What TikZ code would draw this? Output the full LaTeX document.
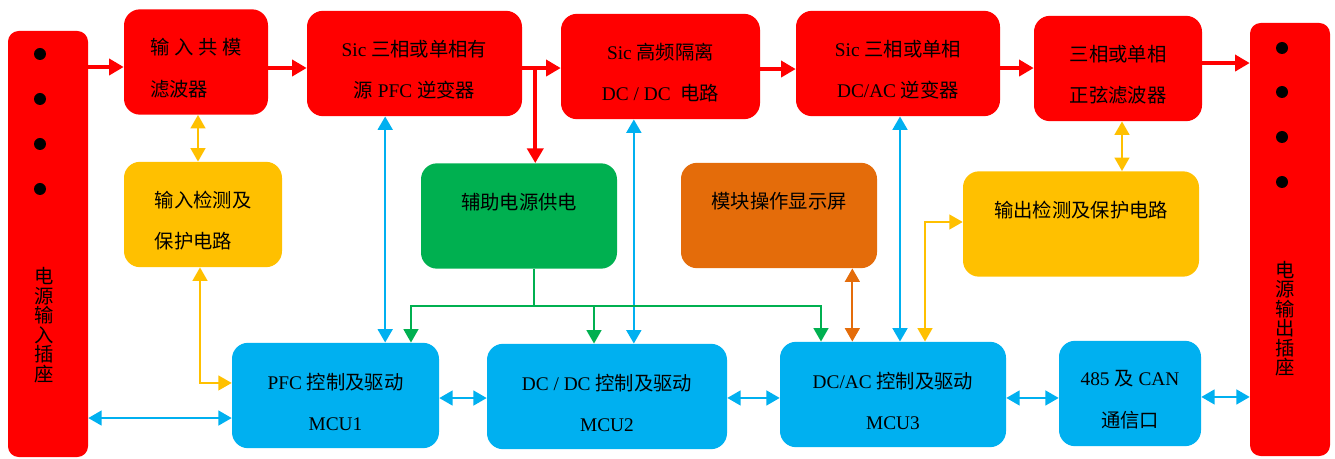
\documentclass[tikz,border=0pt]{standalone}
\usepackage{fontspec}
\setmainfont{Liberation Serif}
\newfontfamily\cjk{Noto Sans CJK SC}
\newcommand\zh[1]{{\cjk #1}}
\usetikzlibrary{arrows.meta,calc}
\definecolor{pwrred}{HTML}{FF0000}
\definecolor{ctlblue}{HTML}{00B0F0}
\definecolor{chkyel}{HTML}{FFC000}
\definecolor{auxgrn}{HTML}{00B050}
\definecolor{dspor}{HTML}{E46C0A}
\tikzset{
  pwr/.style={x=0.75pt, y=-0.75pt},
  p blk/.style={rounded corners=12pt, inner sep=0pt, minimum height=79pt},
  p red/.style={p blk, fill=pwrred},
  p sock/.style={rounded corners=8pt, inner sep=0pt, minimum width=60pt, fill=pwrred},
  p ctl/.style={p blk, fill=ctlblue},
  p chk/.style={p blk, fill=chkyel},
  p aux/.style={p blk, fill=auxgrn},
  p dsp/.style={p blk, fill=dspor},
  p two/.style={align=center, yshift=-4.7pt, font=\fontsize{14.5}{31}\selectfont},
  p one/.style={align=center, yshift=10.5pt, font=\fontsize{14.5}{31}\selectfont},
  p vert/.style={align=center, font=\fontsize{14.5}{14.6}\selectfont},
  p tip/.style={Triangle[length=11pt, width=11pt]},
  a pwr/.style={draw=pwrred, line width=3pt, -{Triangle[length=11pt, width=12pt]}},
  a bus/.style={draw=ctlblue, line width=1.8pt, {Triangle[length=10pt, width=11pt]}-{Triangle[length=10pt, width=11pt]}},
  a chk/.style={draw=chkyel, line width=1.5pt, {Triangle[length=10pt, width=11pt]}-{Triangle[length=10pt, width=11pt]}},
  a dsp/.style={draw=dspor, line width=1.5pt, {Triangle[length=10pt, width=11pt]}-{Triangle[length=10pt, width=11pt]}},
  a aux/.style={draw=auxgrn, line width=1.5pt, -{Triangle[length=10pt, width=11pt]}},
  a auxl/.style={draw=auxgrn, line width=1.5pt},
}
\begin{document}
\begin{tikzpicture}[pwr]
\useasboundingbox (0,0) rectangle (1335,459);
% ---- sockets ----
\node[p sock, minimum height=319.5pt, label={[p vert, xshift=-3pt, yshift=-60.8pt]center:{\zh{电}\\\zh{源}\\\zh{输}\\\zh{入}\\\zh{插}\\\zh{座}}}] (sockin) at (48,244) {};
\node[p sock, minimum height=324.75pt, label={[p vert, xshift=-3.75pt, yshift=-59.3pt]center:{\zh{电}\\\zh{源}\\\zh{输}\\\zh{出}\\\zh{插}\\\zh{座}}}] (sockout) at (1290,239.5) {};
\foreach \dy in {54,99,144,189} \fill (40,\dy) circle[radius=4.5pt];
\foreach \dy in {48,92,137,182} \fill (1282,\dy) circle[radius=4.5pt];
% ---- power stages ----
\node[p red, minimum width=108pt, label={[p two, align=left]center:{\zh{输} \zh{入} \zh{共} \zh{模}\\\zh{滤波器}}}] (fltin) at (196,62) {};
\node[p red, minimum width=161.25pt, label={[p two]center:{Sic \zh{三相或单相有}\\\zh{源} PFC \zh{逆变器}}}] (pfc) at (414.5,63.5) {};
\node[p red, minimum width=149.25pt, label={[p two]center:{Sic \zh{高频隔离}\\DC / DC\ \ \zh{电路}}}] (dcdc) at (660.5,66.5) {};
\node[p red, minimum width=153pt, label={[p two]center:{Sic \zh{三相或单相}\\DC/AC \zh{逆变器}}}] (dcac) at (898,63.5) {};
\node[p red, minimum width=126pt, label={[p two]center:{\zh{三相或单相}\\\zh{正弦滤波器}}}] (fltout) at (1118,68.5) {};
% ---- middle row ----
\node[p chk, minimum width=118.5pt, label={[p two, align=left]center:{\zh{输入检测及}\\\zh{保护电路}}}] (detin) at (203,214.5) {};
\node[p aux, minimum width=147pt, label={[p one]center:{\zh{辅助电源供电}}}] (aux) at (519,216) {};
\node[p dsp, minimum width=147pt, label={[p one]center:{\zh{模块操作显示屏}}}] (disp) at (779,215.5) {};
\node[p chk, minimum width=177pt, label={[p one]center:{\zh{输出检测及保护电路}}}] (detout) at (1081,224) {};
% ---- control row ----
\node[p ctl, minimum width=155.25pt, label={[p two]center:{PFC \zh{控制及驱动}\\MCU1}}] (mcu1) at (335.5,395.5) {};
\node[p ctl, minimum width=180pt, label={[p two]center:{DC / DC \zh{控制及驱动}\\MCU2}}] (mcu2) at (607,396.5) {};
\node[p ctl, minimum width=169.5pt, label={[p two]center:{DC/AC \zh{控制及驱动}\\MCU3}}] (mcu3) at (893,394.5) {};
\node[p ctl, minimum width=106.5pt, label={[p two]center:{485 \zh{及} CAN\\\zh{通信口}}}] (comm) at (1130,393.5) {};
% ---- power chain ----
\coordinate (r1) at ([yshift=-3.75pt]fltin.west); \draw[a pwr] (sockin.east |- r1) -- (r1);
\coordinate (r2) at ([yshift=-4.5pt]fltin.east);  \draw[a pwr] (r2) -- (r2 -| pfc.west);
\coordinate (r3) at ([yshift=-3.4pt]pfc.east);    \draw[a pwr] (r3) -- (r3 -| dcdc.west);
\coordinate (r4) at ([yshift=-1.9pt]dcdc.east);   \draw[a pwr] (r4) -- (r4 -| dcac.west);
\coordinate (r5) at ([yshift=-3.4pt]dcac.east);   \draw[a pwr] (r5) -- (r5 -| fltout.west);
\coordinate (r6) at ([yshift=4.1pt]fltout.east);  \draw[a pwr] (r6) -- (r6 -| sockout.west);
\coordinate (r7) at ($(r3)+(13,0)$);              \draw[a pwr] (r7) -- (r7 |- aux.north);
% ---- control links ----
\coordinate (b1) at ([yshift=-16.9pt]mcu1.west); \draw[a bus] (b1 -| sockin.east) -- (b1);
\coordinate (b2) at ([yshift=-1.9pt]mcu1.east);  \draw[a bus] (b2) -- (b2 -| mcu2.west);
\coordinate (b3) at ([yshift=-1.1pt]mcu2.east);  \draw[a bus] (b3) -- (b3 -| mcu3.west);
\coordinate (b4) at ([yshift=-2.6pt]mcu3.east);  \draw[a bus] (b4) -- (b4 -| comm.west);
\coordinate (b5) at ([yshift=-2.6pt]comm.east);  \draw[a bus] (b5) -- (b5 -| sockout.west);
\coordinate (v1) at ([xshift=-22pt]pfc.south);   \draw[a bus] (v1) -- (v1 |- mcu1.north);
\coordinate (v2) at ([xshift=-20pt]dcdc.south);  \draw[a bus] (v2) -- (v2 |- mcu2.north);
\coordinate (v3) at ([xshift=1.5pt]dcac.south);  \draw[a bus] (v3) -- (v3 |- mcu3.north);
% ---- detection, display, aux supply ----
\coordinate (y1) at ([xshift=1.5pt]fltin.south);   \draw[a chk] (y1) -- (y1 |- detin.north);
\coordinate (y2) at ([xshift=-2.25pt]detin.south); \draw[a chk] (y2) |- ([yshift=9.4pt]mcu1.west);
\coordinate (y3) at ([xshift=3pt]fltout.south);    \draw[a chk] (y3) -- (y3 |- detout.north);
\coordinate (y4) at ([yshift=1.5pt]detout.west);   \draw[a chk] (y4) -| ([xshift=24pt]mcu3.north);
\coordinate (o1) at ([xshift=55pt]disp.south);     \draw[a dsp] (o1) -- (o1 |- mcu3.north);
\coordinate (g0) at ([xshift=11.25pt]aux.south); \coordinate (g1) at ($(g0)+(0,37)$);
\draw[a auxl] (g0) -- (g1);
\draw[a aux] (g1) -| ([xshift=56.6pt]mcu1.north);
\draw[a aux] (g1) -| ([xshift=-9.75pt]mcu2.north);
\draw[a aux] (g1) -| ([xshift=-54pt]mcu3.north);
\end{tikzpicture}
\end{document}
